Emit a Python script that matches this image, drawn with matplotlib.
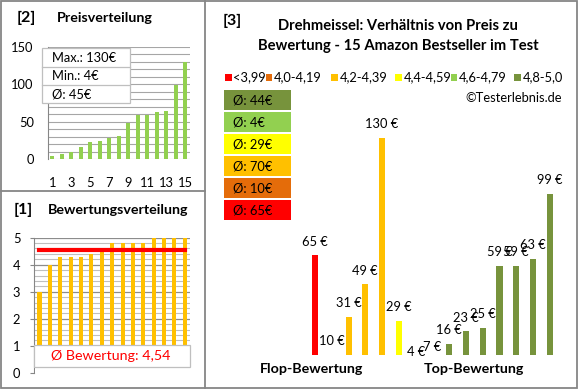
import matplotlib
matplotlib.use("Agg")
import matplotlib.pyplot as plt
from matplotlib.patches import Rectangle
from matplotlib.transforms import offset_copy
import numpy as np

plt.rcParams['font.family'] = ['Lato', 'DejaVu Sans']

# --- Data: 15 products, ordered by rating (as in panel [3]) ---
ratings = [3.0, 4.0, 4.3, 4.3, 4.3, 4.4, 4.6, 4.8, 4.8, 4.8, 4.8, 5.0, 5.0, 5.0, 5.0]
prices = [65, 10, 31, 49, 130, 29, 4, 7, 16, 23, 25, 59, 59, 63, 99]

class_labels = ["<3,99", "4,0-4,19", "4,2-4,39", "4,4-4,59", "4,6-4,79", "4,8-5,0"]
class_colors = ["#FF0000", "#E46C0A", "#FFC000", "#FFFF00", "#92D050", "#77933C"]
class_edges = [4.0, 4.2, 4.4, 4.6, 4.8]

price_tick_labels = [str(n) for n in range(1, 16, 2)]

# --- derived values ---
cls = np.digitize(ratings, class_edges)
bar_colors = [class_colors[c] for c in cls]
class_means = [np.mean([p for p, c in zip(prices, cls) if c == k]) for k in range(6)]
prices_sorted = sorted(prices)
ratings_sorted = sorted(ratings)
mean_rating = np.mean(ratings)
idx = np.arange(len(prices))

W, H = 579, 390
fig = plt.figure(figsize=(W / 100, H / 100), dpi=100)
fig.patch.set_facecolor("white")

GRID = "#A6A6A6"
FRAME = "#868686"
FS = 9.3


def px_axes(x0, y0, x1, y1, **kw):
    # axes from pixel box (top-left origin)
    return fig.add_axes([x0 / W, 1 - y1 / H, (x1 - x0) / W, (y1 - y0) / H], **kw)


# --- [2] Preisverteilung ---
ax2 = px_axes(47.7, 46.7, 190, 159.3)
ax2.bar(idx, prices_sorted, width=0.42, color="#92D050", zorder=3)
ax2.set_xlim(-0.5, len(idx) - 0.5)
ax2.set_ylim(0, 150)
ax2.set_yticks([0, 50, 100, 150])
ax2.set_yticks(range(0, 151, 10), minor=True)
ax2.grid(axis="y", which="both", color=GRID, lw=0.8, zorder=0)
ax2.set_xticks(idx[::2])
ax2.set_xticklabels(price_tick_labels)
for s in ["top", "right", "bottom"]:
    ax2.spines[s].set_visible(False)
ax2.spines["left"].set_color(FRAME)
ax2.tick_params(axis="both", which="both", length=0, labelsize=FS)
ax2.tick_params(axis="y", pad=10)
ax2.tick_params(axis="x", pad=13)

# --- [1] Bewertungsverteilung ---
ax1 = px_axes(34.3, 237.7, 190, 372.7)
ax1.bar(idx, ratings_sorted, width=0.39, color="#FFC000", zorder=3)
ax1.hlines(mean_rating, idx[0], idx[-1], color="#FF0000", lw=3,
           capstyle="projecting", zorder=4)
ax1.set_xlim(-0.5, len(idx) - 0.5)
ax1.set_ylim(0, 5)
ax1.set_yticks(range(0, 6))
ax1.set_yticks(np.arange(0, 5.01, 0.2), minor=True)
ax1.grid(axis="y", which="minor", color="#BFBFBF", lw=0.8, zorder=0)
ax1.grid(axis="y", which="major", color="#8C8C8C", lw=0.9, zorder=0)
ax1.set_xticks([])
for s in ["top", "right", "bottom"]:
    ax1.spines[s].set_visible(False)
ax1.spines["left"].set_color(FRAME)
ax1.spines["left"].set_zorder(12)
ax1.tick_params(axis="y", which="major", length=3, color=FRAME, labelsize=FS, pad=7)
ax1.tick_params(axis="y", which="minor", length=0)

# --- [3] Preis vs Bewertung ---
ax3 = px_axes(306.6, 101.6, 558.2, 355)
ax3.bar(idx, prices, width=0.36, color=bar_colors, zorder=3)
ax3.set_xlim(-0.5, len(idx) - 0.5)
ax3.set_ylim(10, 150)
ax3.axis("off")
lbl_tr = offset_copy(ax3.transData, fig=fig, y=10, units="points")
# clip labels only at the plot floor
clip = Rectangle((-0.3, 0), 1.6, 1.5, transform=ax3.transAxes, fc="none", ec="none")
for i, v in zip(idx, prices):
    t = ax3.text(i, v, f"{v} €", transform=lbl_tr, ha="center", va="center",
                 fontsize=FS, zorder=5)
    t.set_clip_path(clip)

# --- overlay: frames, boxes, texts (pixel coords) ---
ov = fig.add_axes([0, 0, 1, 1], zorder=10)
ov.set_xlim(0, W)
ov.set_ylim(H, 0)
ov.axis("off")
ov.patch.set_alpha(0)

ov.add_patch(Rectangle((1, 1), 576, 387, fill=False, ec=FRAME, lw=1.3))
ov.plot([205, 205], [1, 388], color=FRAME, lw=1.3)
ov.plot([1, 205], [191, 191], color=FRAME, lw=1.3)

# panel titles
ov.text(17, 18, "[2]", fontsize=11.5, fontweight="bold", va="center")
ov.text(57, 18, "Preisverteilung", fontsize=10.3, fontweight="bold", va="center")
ov.text(14, 210, "[1]", fontsize=11.5, fontweight="bold", va="center")
ov.text(48, 210, "Bewertungsverteilung", fontsize=10.3, fontweight="bold", va="center")
ov.text(223, 21, "[3]", fontsize=11.5, fontweight="bold", va="center")
ov.text(398, 26, "Drehmeissel: Verhältnis von Preis zu", fontsize=10.6,
        fontweight="bold", ha="center", va="center")
ov.text(398, 46, "Bewertung - 15 Amazon Bestseller im Test", fontsize=10.6,
        fontweight="bold", ha="center", va="center")

# price stats box
ov.add_patch(Rectangle((42, 48), 88, 55, fc="white", ec="#BFBFBF", lw=0.9))
ov.plot([42, 130], [66.7, 66.7], color="#BFBFBF", lw=0.9)
ov.plot([42, 130], [85, 85], color="#BFBFBF", lw=0.9)
stats = [f"Max.: {max(prices)}€", f"Min.: {min(prices)}€", f"Ø: {np.mean(prices):.0f}€"]
for k, s in enumerate(stats):
    ov.text(51.7, 58 + k * 18.4, s, fontsize=FS, va="center")

# rating mean box (white floor below it too)
ov.add_patch(Rectangle((35, 345), 155, 28, fc="white", ec="none"))
ov.add_patch(Rectangle((33.5, 345), 156.5, 22, fc="white", ec="#BFBFBF", lw=0.9))
ov.text(111, 356.5, f"Ø Bewertung: {mean_rating:.2f}".replace(".", ","),
        fontsize=10.3, color="#FF0000", ha="center", va="center")

# legend row
sq_x = [225, 265.7, 331, 395, 450.7, 514.3]
for x, lab, col in zip(sq_x, class_labels, class_colors):
    ov.add_patch(Rectangle((x, 74), 6.5, 6.5, fc=col, ec="none"))
    ov.text(x + 8.5, 77.5, lab, fontsize=FS, va="center")
ov.text(562, 98, "©Testerlebnis.de", fontsize=FS, ha="right", va="center")

# class mean boxes (best class on top)
for k, c in enumerate(range(5, -1, -1)):
    top = 90 + k * 22
    ov.add_patch(Rectangle((223.5, top), 67.5, 20, fc=class_colors[c], ec="none"))
    ov.text(233, top + 10.5, f"Ø: {class_means[c]:.0f}€", fontsize=FS, va="center")

ov.text(311.7, 369, "Flop-Bewertung", fontsize=10.3, fontweight="bold",
        ha="center", va="center")
ov.text(474, 369, "Top-Bewertung", fontsize=10.3, fontweight="bold",
        ha="center", va="center")

fig.savefig("out.png", dpi=100)
